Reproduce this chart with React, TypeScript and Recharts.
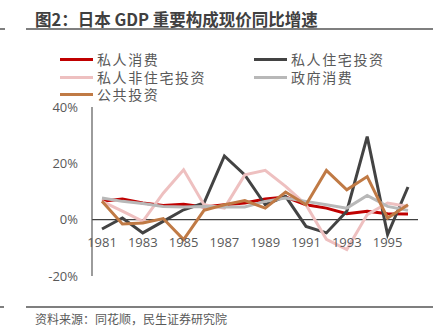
import { LineChart, Line, XAxis, YAxis, ReferenceLine } from "recharts";

const years = [
  "1981", "1982", "1983", "1984", "1985", "1986", "1987", "1988",
  "1989", "1990", "1991", "1992", "1993", "1994", "1995", "1996",
];

const privateConsumption = [6.5, 7.3, 5.9, 5.0, 5.5, 4.5, 5.3, 5.9, 7.3, 8.0, 5.3, 4.1, 2.1, 3.0, 2.1, 2.0];
const privateHousing = [-3.3, 0.6, -4.7, -0.6, 3.5, 5.9, 22.6, 15.9, 5.3, 8.3, -2.4, -4.7, 3.0, 29.5, -5.3, 11.6];
const privateNonHousing = [6.5, 3.0, -0.6, 9.4, 17.7, 5.3, 4.1, 15.9, 17.5, 11.8, 5.3, -7.0, -10.6, 1.8, 5.9, 4.7];
const govConsumption = [7.7, 6.5, 5.7, 4.7, 4.5, 4.7, 4.5, 4.5, 6.5, 7.7, 6.5, 5.3, 4.1, 8.6, 4.7, 3.3];
const publicInvestment = [6.5, -1.5, -1.2, 0.4, -7.1, 3.3, 5.3, 6.8, 4.1, 9.8, 5.3, 17.5, 10.6, 15.3, 0.6, 5.3];

const yTicks = [-20, 0, 20, 40];

const series = [
  { key: "c", name: "私人消费", color: "#C00000", values: privateConsumption },
  { key: "h", name: "私人住宅投资", color: "#434343", values: privateHousing },
  { key: "n", name: "私人非住宅投资", color: "#EEC0C0", values: privateNonHousing },
  { key: "g", name: "政府消费", color: "#B8B8B8", values: govConsumption },
  { key: "p", name: "公共投资", color: "#C07A45", values: publicInvestment },
];

const data = years.map((year, i) => {
  const row: Record<string, string | number> = { year };
  series.forEach((s) => {
    row[s.key] = s.values[i];
  });
  return row;
});

const numFont = "'Open Sans', 'Noto Sans CJK SC', sans-serif";
const cjkFont = "'Noto Sans CJK SC', sans-serif";
const textColor = "#595959";

const legendPos = [
  { left: 60, top: 59.5 },
  { left: 254, top: 59.5 },
  { left: 60, top: 77 },
  { left: 254, top: 77 },
  { left: 60, top: 94 },
];

function YearTick(props: any) {
  const { x, y, payload } = props;
  return (
    <text
      x={x}
      y={y - 46}
      dy="0.71em"
      textAnchor="middle"
      fill={textColor}
      fontSize={13}
      fontFamily={numFont}
    >
      {payload.value}
    </text>
  );
}

export default function App() {
  return (
    <div
      style={{
        position: "absolute",
        left: 0,
        top: 0,
        width: 445,
        height: 327,
        background: "#fff",
        overflow: "hidden",
      }}
    >
      <div
        style={{
          position: "absolute",
          left: 35,
          top: 8,
          fontFamily: cjkFont,
          fontWeight: 700,
          fontSize: 16.5,
          color: "#404040",
          lineHeight: "22px",
          whiteSpace: "nowrap",
        }}
      >
        图2：日本 GDP 重要构成现价同比增速
      </div>
      <div style={{ position: "absolute", left: 26, top: 28, width: 407, height: 1.5, background: "#7F7F7F" }} />
      <div style={{ position: "absolute", left: 0, top: 28, width: 5, height: 1.5, background: "#7F7F7F" }} />

      {series.map((s, i) => (
        <div
          key={s.key}
          style={{
            position: "absolute",
            left: legendPos[i].left,
            top: legendPos[i].top - 8,
            height: 16,
            display: "flex",
            alignItems: "center",
            whiteSpace: "nowrap",
          }}
        >
          <span style={{ display: "inline-block", width: 33, height: 3, background: s.color, marginRight: 4 }} />
          <span
            style={{
              fontFamily: cjkFont,
              fontSize: 14,
              letterSpacing: 1.6,
              color: textColor,
              lineHeight: "15px",
            }}
          >
            {s.name}
          </span>
        </div>
      ))}

      <div style={{ position: "absolute", left: 0, top: 0 }}>
        <LineChart
          width={445}
          height={327}
          data={data}
          margin={{ top: 107, right: 27, bottom: 21, left: 32 }}
        >
          <XAxis
            dataKey="year"
            axisLine={false}
            tickLine={false}
            interval={1}
            height={30}
            padding={{ left: 10, right: 10 }}
            tick={<YearTick />}
          />
          <YAxis
            domain={[-20, 40]}
            ticks={yTicks}
            width={60}
            tickLine={false}
            tickMargin={8}
            axisLine={{ stroke: "#595959", strokeWidth: 1.2 }}
            tickFormatter={(v: number) => `${v}%`}
            tick={{ fill: textColor, fontSize: 13, fontFamily: numFont }}
          />
          <ReferenceLine y={0} stroke="#404040" strokeWidth={1.2} />
          {series.map((s) => (
            <Line
              key={s.key}
              type="linear"
              dataKey={s.key}
              name={s.name}
              stroke={s.color}
              strokeWidth={3}
              dot={false}
              isAnimationActive={false}
            />
          ))}
        </LineChart>
      </div>

      <div style={{ position: "absolute", left: 26, top: 306, width: 407, height: 1.5, background: "#7F7F7F" }} />
      <div style={{ position: "absolute", left: 0, top: 306, width: 4, height: 1.5, background: "#7F7F7F" }} />
      <div
        style={{
          position: "absolute",
          left: 35,
          top: 311,
          fontFamily: cjkFont,
          fontSize: 12,
          color: textColor,
          lineHeight: "16px",
          whiteSpace: "nowrap",
        }}
      >
        资料来源：同花顺，民生证券研究院
      </div>
    </div>
  );
}
